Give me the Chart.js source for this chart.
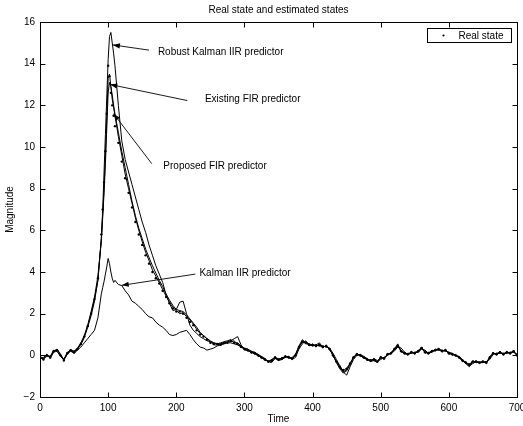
<!DOCTYPE html>
<html>
<head>
<meta charset="utf-8">
<script src="https://cdn.jsdelivr.net/npm/chart.js@4.4.1/dist/chart.umd.min.js"></script>
<style>
html, body { margin: 0; padding: 0; background: #fff; }
canvas { display: block; }
</style>
</head>
<body>
<canvas id="chart" width="523" height="426"></canvas>
<script>
// Data
const time = [0,5,10,15,20,25,30,35,40,45,50,55,60,65,70,75,80,85,90,
    92,94,96,98,100,102,104,106,108,110,
    115,120,125,130,135,140,145,150,155,160,165,170,175,180,185,190,195,200,205,210,
    215,220,225,230,235,240,245,250,255,260,265,270,275,280,285,290,295,300,
    305,310,315,320,325,330,335,340,345,350,355,360,365,370,375,380,385,390,395,400,
    405,410,415,420,425,430,435,440,445,450,455,460,465,470,475,480,485,490,495,500,
    505,510,515,520,525,530,535,540,545,550,555,560,565,570,575,580,585,590,595,600,
    605,610,615,620,625,630,635,640,645,650,655,660,665,670,675,680,685,690,695,700];

const realState = [-0.1,-0.2,0.0,-0.1,0.2,0.25,0.0,-0.25,0.1,0.25,0.15,0.3,0.55,0.9,1.4,2.0,2.7,3.7,5.8,
    7.0,8.3,9.8,11.6,13.9,13.4,12.6,12.0,11.5,11.0,
    10.2,9.3,8.5,7.8,7.1,6.4,5.8,5.3,4.8,4.4,4.0,3.7,3.45,3.1,2.8,2.5,2.25,2.1,2.1,2.0,
    1.8,1.6,1.45,1.2,1.0,0.9,0.75,0.6,0.55,0.55,0.5,0.6,0.6,0.7,0.6,0.55,0.4,0.3,
    0.25,0.15,0.1,0.0,-0.1,-0.2,-0.3,-0.25,-0.1,-0.2,-0.15,-0.05,-0.1,-0.15,0.0,0.4,0.65,0.6,0.5,0.5,
    0.45,0.5,0.4,0.45,0.3,0.0,-0.3,-0.55,-0.7,-0.65,-0.4,-0.1,0.05,0.0,-0.1,-0.2,-0.25,-0.2,-0.3,-0.1,
    -0.15,0.05,0.1,0.3,0.45,0.2,0.1,0.05,0.15,0.1,0.2,0.35,0.15,0.1,0.2,0.25,0.3,0.2,0.25,0.1,
    0.05,0.0,-0.1,-0.25,-0.35,-0.45,-0.3,-0.3,-0.35,-0.3,-0.35,-0.1,0.1,0.05,0.15,0.05,0.15,0.1,0.2,0.0];

const proposedFir = [-0.15,-0.1,0.05,-0.15,0.15,0.3,0.05,-0.2,0.05,0.3,0.1,0.35,0.5,0.85,1.35,1.9,2.6,3.6,5.6,
    6.8,8.0,9.6,11.4,13.3,13.5,12.9,12.3,11.9,11.5,
    10.5,9.6,8.7,8.0,7.3,6.6,6.0,5.45,4.95,4.55,4.1,3.8,3.5,3.15,2.85,2.55,2.3,2.15,2.0,2.05,
    1.85,1.7,1.5,1.25,1.05,0.95,0.8,0.65,0.5,0.5,0.55,0.55,0.65,0.65,0.7,0.5,0.45,0.3,
    0.2,0.2,0.05,0.05,-0.15,-0.15,-0.35,-0.2,-0.15,-0.15,-0.2,0.0,-0.15,-0.1,0.05,0.35,0.7,0.55,0.55,0.45,
    0.5,0.45,0.45,0.4,0.35,-0.05,-0.25,-0.6,-0.75,-0.6,-0.45,-0.05,0.0,0.05,-0.15,-0.15,-0.3,-0.15,-0.25,-0.15,
    -0.1,0.0,0.15,0.25,0.5,0.15,0.15,0.0,0.2,0.05,0.25,0.3,0.2,0.05,0.25,0.2,0.35,0.15,0.3,0.05,
    0.1,-0.05,-0.05,-0.3,-0.3,-0.5,-0.25,-0.35,-0.3,-0.35,-0.3,-0.15,0.15,0.0,0.2,0.0,0.2,0.05,0.25,-0.05];

const existingFir = [-0.05,-0.15,-0.05,-0.05,0.25,0.2,-0.05,-0.2,0.15,0.2,0.2,0.25,0.6,0.95,1.45,2.1,2.8,3.8,5.5,
    6.6,7.8,9.2,10.9,12.6,13.1,12.9,12.5,12.0,11.6,
    10.7,9.8,9.0,8.2,7.4,6.7,6.1,5.6,5.1,4.7,4.3,3.95,3.6,3.3,2.95,2.65,2.4,2.2,2.15,2.1,
    1.95,1.75,1.55,1.35,1.1,0.95,0.8,0.7,0.6,0.55,0.6,0.65,0.7,0.75,0.6,0.6,0.45,0.35,
    0.3,0.1,0.15,-0.05,-0.05,-0.25,-0.25,-0.3,-0.05,-0.25,-0.1,-0.1,-0.05,-0.2,0.05,0.45,0.6,0.65,0.45,0.55,
    0.4,0.55,0.35,0.5,0.25,0.05,-0.35,-0.5,-0.8,-0.7,-0.35,-0.15,0.1,-0.05,-0.05,-0.25,-0.2,-0.25,-0.35,-0.05,
    -0.2,0.1,0.05,0.35,0.4,0.25,0.05,0.1,0.1,0.15,0.15,0.4,0.1,0.15,0.15,0.3,0.25,0.25,0.2,0.15,
    0.0,0.05,-0.15,-0.2,-0.4,-0.4,-0.35,-0.25,-0.4,-0.25,-0.4,-0.05,0.05,0.1,0.1,0.1,0.1,0.15,0.15,0.05];

const robustKalmanIir = [-0.1,-0.15,0.05,-0.1,0.2,0.3,0.05,-0.25,0.1,0.25,0.2,0.35,0.6,0.9,1.4,2.0,2.7,3.6,5.6,
    7.0,8.8,10.6,12.4,14.2,15.3,15.5,15.0,14.5,13.9,
    12.0,10.3,9.4,8.8,8.2,7.6,7.0,6.4,5.9,5.3,4.8,4.3,3.9,3.5,2.9,2.5,2.15,2.2,2.55,2.6,
    2.0,1.45,1.2,1.05,0.9,0.8,0.7,0.65,0.6,0.55,0.55,0.6,0.65,0.7,0.8,0.9,0.5,0.25,
    0.25,0.15,0.1,0.0,-0.1,-0.2,-0.3,-0.2,-0.1,-0.2,-0.15,-0.05,-0.1,-0.15,0.0,0.45,0.75,0.6,0.55,0.5,
    0.5,0.6,0.4,0.45,0.3,0.0,-0.35,-0.65,-0.85,-0.75,-0.45,-0.1,0.05,0.0,-0.1,-0.2,-0.25,-0.2,-0.3,-0.1,
    -0.15,0.05,0.1,0.3,0.55,0.2,0.1,0.05,0.15,0.1,0.2,0.4,0.15,0.1,0.2,0.25,0.3,0.2,0.25,0.1,
    0.05,0.0,-0.1,-0.25,-0.4,-0.55,-0.3,-0.3,-0.35,-0.3,-0.35,-0.1,0.1,0.05,0.15,0.05,0.15,0.1,0.2,0.0];

const kalmanIir = [-0.1,-0.2,0.0,-0.05,0.15,0.2,0.0,-0.2,0.05,0.2,0.1,0.25,0.4,0.6,0.8,1.0,1.2,1.8,2.95,
    3.25,3.55,3.9,4.25,4.65,4.4,4.0,3.7,3.5,3.6,
    3.4,3.35,3.1,2.9,2.6,2.5,2.35,2.2,2.0,1.85,1.8,1.6,1.45,1.35,1.2,1.0,0.95,1.0,1.1,1.15,
    1.2,1.0,0.75,0.55,0.4,0.35,0.25,0.3,0.35,0.45,0.5,0.55,0.6,0.6,0.55,0.5,0.4,0.3,
    0.3,0.2,0.15,0.05,-0.05,-0.15,-0.3,-0.35,-0.15,-0.25,-0.2,-0.1,-0.05,-0.2,-0.1,0.3,0.55,0.7,0.5,0.45,
    0.5,0.45,0.45,0.4,0.35,0.1,-0.2,-0.5,-0.8,-0.95,-0.55,-0.2,0.0,0.05,-0.05,-0.15,-0.3,-0.25,-0.3,-0.2,
    -0.1,0.0,0.1,0.2,0.4,0.35,0.15,0.05,0.1,0.15,0.15,0.3,0.25,0.1,0.15,0.25,0.25,0.25,0.2,0.15,
    0.1,0.0,-0.05,-0.2,-0.35,-0.5,-0.4,-0.3,-0.35,-0.35,-0.3,-0.2,0.05,0.1,0.1,0.1,0.1,0.15,0.15,0.05];

const xTicks = [0, 100, 200, 300, 400, 500, 600, 700];
const yTicks = [-2, 0, 2, 4, 6, 8, 10, 12, 14, 16];

const titleText = 'Real state and estimated states';
const xLabel = 'Time';
const yLabel = 'Magnitude';
const legendLabel = 'Real state';

// Callouts: text anchor, arrow tail and arrow tip, in data units
const callouts = [
    { text: 'Robust Kalman IIR predictor', at: [173, 14.55], from: [160, 14.65], to: [107, 14.9] },
    { text: 'Existing FIR predictor', at: [242, 12.3], from: [216, 12.23], to: [103, 13.0] },
    { text: 'Proposed FIR predictor', at: [181, 9.1], from: [164, 9.2], to: [108, 11.6] },
    { text: 'Kalman IIR predictor', at: [234, 3.95], from: [228, 3.9], to: [120, 3.36] }
];

const FONT = '10px "Liberation Sans", Arial, Helvetica, sans-serif';

function toPoints(values) {
    return values.map((v, i) => ({ x: time[i], y: v }));
}

function lineSet(label, values) {
    return {
        label: label,
        data: toPoints(values),
        borderColor: '#000',
        borderWidth: 1,
        pointRadius: 0,
        fill: false,
        tension: 0
    };
}

function arrow(ctx, x1, y1, x2, y2) {
    ctx.beginPath();
    ctx.moveTo(x1, y1);
    ctx.lineTo(x2, y2);
    ctx.stroke();
    let ang = Math.atan2(y2 - y1, x2 - x1);
    let len = 7, half = 2.6;
    let bx = x2 - len * Math.cos(ang), by = y2 - len * Math.sin(ang);
    ctx.beginPath();
    ctx.moveTo(x2, y2);
    ctx.lineTo(bx + half * Math.sin(ang), by - half * Math.cos(ang));
    ctx.lineTo(bx - half * Math.sin(ang), by + half * Math.cos(ang));
    ctx.closePath();
    ctx.fill();
}

// Frame, inward ticks, titles, legend and callouts
const decor = {
    id: 'decor',
    afterDraw(chart) {
        const ctx = chart.ctx;
        const a = chart.chartArea;
        const x = chart.scales.x, y = chart.scales.y;
        ctx.save();
        ctx.strokeStyle = '#000';
        ctx.fillStyle = '#000';
        ctx.lineWidth = 1;

        let L = Math.round(a.left) + 0.5, R = Math.round(a.right) + 0.5;
        let T = Math.round(a.top) + 0.5, B = Math.round(a.bottom) + 0.5;
        ctx.strokeRect(L, T, R - L, B - T);

        ctx.beginPath();
        xTicks.forEach(v => {
            let px = Math.round(x.getPixelForValue(v)) + 0.5;
            ctx.moveTo(px, B); ctx.lineTo(px, B - 5);
            ctx.moveTo(px, T); ctx.lineTo(px, T + 5);
        });
        yTicks.forEach(v => {
            let py = Math.round(y.getPixelForValue(v)) + 0.5;
            ctx.moveTo(L, py); ctx.lineTo(L + 5, py);
            ctx.moveTo(R, py); ctx.lineTo(R - 5, py);
        });
        ctx.stroke();

        ctx.font = FONT;
        ctx.textBaseline = 'middle';
        ctx.textAlign = 'center';
        ctx.fillText(titleText, (a.left + a.right) / 2, 10);
        ctx.fillText(xLabel, (a.left + a.right) / 2, 419);
        ctx.save();
        ctx.translate(10, (a.top + a.bottom) / 2);
        ctx.rotate(-Math.PI / 2);
        ctx.fillText(yLabel, 0, 0);
        ctx.restore();

        // legend box
        let lx = Math.round(a.right) - 89.5, ly = Math.round(a.top) + 6.5;
        ctx.fillStyle = '#fff';
        ctx.fillRect(lx, ly, 84, 14);
        ctx.strokeRect(lx, ly, 84, 14);
        ctx.fillStyle = '#000';
        ctx.beginPath();
        ctx.arc(lx + 16, ly + 7, 1.1, 0, Math.PI * 2);
        ctx.fill();
        ctx.textAlign = 'left';
        ctx.fillText(legendLabel, lx + 31, ly + 7.5);

        // callouts
        ctx.lineWidth = 0.9;
        callouts.forEach(c => {
            ctx.fillText(c.text, x.getPixelForValue(c.at[0]), y.getPixelForValue(c.at[1]));
            arrow(ctx, x.getPixelForValue(c.from[0]), y.getPixelForValue(c.from[1]),
                       x.getPixelForValue(c.to[0]), y.getPixelForValue(c.to[1]));
        });
        ctx.restore();
    }
};

new Chart(document.getElementById('chart'), {
    type: 'line',
    data: {
        datasets: [
            {
                label: legendLabel,
                data: toPoints(realState),
                showLine: false,
                pointRadius: 1.2,
                pointBackgroundColor: '#000',
                pointBorderWidth: 0,
                borderColor: '#000'
            },
            lineSet('Proposed FIR predictor', proposedFir),
            lineSet('Existing FIR predictor', existingFir),
            lineSet('Robust Kalman IIR predictor', robustKalmanIir),
            lineSet('Kalman IIR predictor', kalmanIir)
        ]
    },
    options: {
        responsive: false,
        animation: false,
        devicePixelRatio: 1,
        layout: { padding: { left: 0, right: 6, top: 22, bottom: 0 } },
        plugins: {
            legend: { display: false },
            title: { display: false },
            tooltip: { enabled: false }
        },
        scales: {
            x: {
                type: 'linear',
                min: 0,
                max: 700,
                grid: { display: false, drawTicks: false, tickLength: 0 },
                border: { display: false },
                ticks: {
                    stepSize: 100,
                    maxRotation: 0,
                    autoSkip: false,
                    padding: 5,
                    color: '#000',
                    font: { family: '"Liberation Sans", Arial, sans-serif', size: 10 }
                },
                afterFit(scale) {
                    scale.height = 29;
                    scale.paddingLeft = 0;
                    scale.paddingRight = 0;
                }
            },
            y: {
                min: -2,
                max: 16,
                grid: { display: false, drawTicks: false, tickLength: 0 },
                border: { display: false },
                ticks: {
                    stepSize: 2,
                    padding: 5,
                    color: '#000',
                    font: { family: '"Liberation Sans", Arial, sans-serif', size: 10 },
                    callback: v => String(v).replace('-', '\u2212')
                },
                afterFit(scale) {
                    scale.width = 40;
                    scale.paddingTop = 0;
                    scale.paddingBottom = 0;
                }
            }
        }
    },
    plugins: [decor]
});
</script>
</body>
</html>
